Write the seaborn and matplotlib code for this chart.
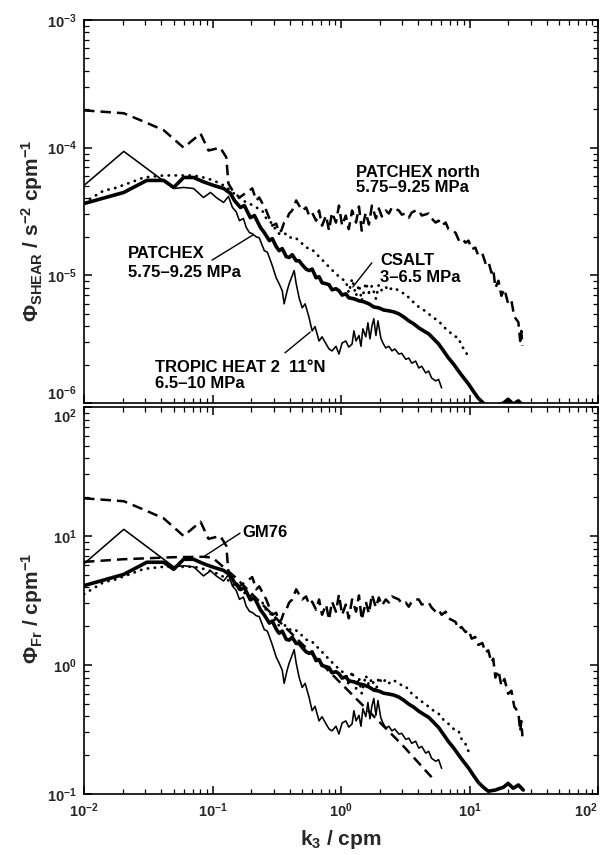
import numpy as np
import matplotlib
matplotlib.use("Agg")
import matplotlib.pyplot as plt
import seaborn as sns
from matplotlib.ticker import LogLocator, LogFormatterSciNotation, NullFormatter

# ---------------- data ----------------
# PATCHEX north 5.75-9.25 MPa (dashed), shear spectrum [s^-2 cpm^-1]
k_north = [0.01, 0.0204, 0.0292, 0.0417, 0.0596, 0.0807, 0.0931, 0.115, 0.128, 0.133,
           0.143, 0.162, 0.204, 0.219, 0.231, 0.262, 0.277, 0.292, 0.313, 0.330,
           0.343, 0.361, 0.375, 0.395, 0.417, 0.448, 0.472, 0.499, 0.535, 0.565,
           0.596, 0.640, 0.675, 0.712, 0.765, 0.807, 0.851, 0.914, 0.964, 1.02,
           1.09, 1.15, 1.22, 1.31, 1.38, 1.45, 1.56, 1.65, 1.74, 1.87,
           1.97, 2.08, 2.23, 2.36, 2.49, 2.67, 2.82, 2.97, 3.19, 3.37,
           3.55, 3.81, 4.03, 4.25, 4.81, 5.07, 5.45, 5.75, 6.07, 6.52,
           6.87, 7.24, 7.78, 8.22, 8.67, 9.31, 9.82, 10.4, 11.1, 11.7,
           12.6, 13.3, 14.0, 14.8, 15.3, 15.9, 16.8, 17.7, 18.7, 20.0,
           21.2, 22.3, 24.0, 24.8, 25.3, 25.8]
phi_north = [1.96e-4, 1.86e-4, 1.60e-4, 1.37e-4, 1.0e-4, 1.29e-4, 9.5e-5, 1.0e-4, 8.4e-5, 5.24e-5,
             4.62e-5, 4.07e-5, 4.8e-5, 3.86e-5, 4.07e-5, 3.22e-5, 2.79e-5, 2.45e-5, 2.54e-5, 2.16e-5,
             2.24e-5, 2.59e-5, 2.68e-5, 3.05e-5, 3.22e-5, 3.86e-5, 3.52e-5, 3.22e-5, 3.40e-5, 2.94e-5,
             3.10e-5, 2.68e-5, 3.22e-5, 2.45e-5, 2.94e-5, 2.24e-5, 3.10e-5, 2.59e-5, 3.52e-5, 2.45e-5,
             2.94e-5, 2.30e-5, 3.22e-5, 2.59e-5, 3.46e-5, 2.24e-5, 3.10e-5, 2.50e-5, 3.52e-5, 2.79e-5,
             3.34e-5, 2.89e-5, 3.22e-5, 3.05e-5, 3.40e-5, 3.30e-5, 3.22e-5, 2.99e-5, 3.05e-5, 2.83e-5,
             3.10e-5, 3.22e-5, 3.22e-5, 2.94e-5, 3.05e-5, 2.79e-5, 2.59e-5, 2.68e-5, 2.45e-5, 2.59e-5,
             2.30e-5, 2.24e-5, 2.16e-5, 1.90e-5, 1.97e-5, 1.80e-5, 1.87e-5, 1.60e-5, 1.65e-5, 1.43e-5,
             1.48e-5, 1.25e-5, 1.30e-5, 1.05e-5, 1.12e-5, 7.99e-6, 9.07e-6, 6.91e-6, 7.80e-6, 5.98e-6,
             6.32e-6, 4.75e-6, 4.30e-6, 3.06e-6, 3.67e-6, 2.80e-6]

# PATCHEX 5.75-9.25 MPa (thick solid)
k_patchex = [0.01, 0.0204, 0.0308, 0.0417, 0.0499, 0.0596, 0.0712, 0.0851, 0.102, 0.122,
             0.138, 0.148, 0.165, 0.177, 0.197, 0.212, 0.236, 0.253, 0.277, 0.292,
             0.313, 0.330, 0.349, 0.375, 0.395, 0.417, 0.448, 0.472, 0.499, 0.535,
             0.565, 0.596, 0.640, 0.675, 0.712, 0.765, 0.807, 0.851, 0.914, 0.964,
             1.02, 1.09, 1.15, 1.26, 1.38, 1.51, 1.65, 1.80, 1.97, 2.15,
             2.36, 2.58, 2.82, 3.08, 3.37, 3.68, 4.03, 4.40, 4.81, 5.26,
             5.75, 6.28, 6.87, 7.51, 8.22, 8.98, 9.82, 10.7, 11.7, 12.8,
             14.0, 15.9, 18.4, 20.0, 21.9, 24.0, 26.2]
phi_patchex = [3.65e-5, 4.46e-5, 5.54e-5, 5.54e-5, 4.88e-5, 5.84e-5, 5.84e-5, 5.40e-5, 5.06e-5, 4.79e-5,
               4.38e-5, 3.86e-5, 3.40e-5, 3.52e-5, 2.83e-5, 2.94e-5, 2.37e-5, 2.16e-5, 1.87e-5, 1.94e-5,
               1.68e-5, 1.56e-5, 1.62e-5, 1.40e-5, 1.38e-5, 1.45e-5, 1.30e-5, 1.30e-5, 1.21e-5, 1.12e-5,
               1.09e-5, 1.12e-5, 9.57e-6, 9.75e-6, 8.75e-6, 8.59e-6, 8.45e-6, 7.70e-6, 7.85e-6, 7.57e-6,
               7.00e-6, 7.17e-6, 6.67e-6, 6.55e-6, 6.32e-6, 6.20e-6, 5.98e-6, 5.65e-6, 5.56e-6, 5.35e-6,
               5.27e-6, 5.17e-6, 4.99e-6, 4.72e-6, 4.40e-6, 4.17e-6, 3.88e-6, 3.67e-6, 3.48e-6, 3.18e-6,
               2.90e-6, 2.56e-6, 2.25e-6, 2.02e-6, 1.78e-6, 1.58e-6, 1.41e-6, 1.24e-6, 1.09e-6, 1.00e-6,
               0.93e-6, 0.95e-6, 1.00e-6, 1.07e-6, 0.98e-6, 1.04e-6, 0.95e-6]

# TROPIC HEAT 2 11N 6.5-10 MPa (thin solid)
k_th2 = [0.01, 0.0204, 0.0499, 0.0596, 0.0712, 0.0851, 0.0965, 0.107, 0.122, 0.133,
         0.143, 0.153, 0.162, 0.174, 0.183, 0.194, 0.204, 0.219, 0.231, 0.253,
         0.267, 0.277, 0.292, 0.313, 0.330, 0.349, 0.361, 0.381, 0.395, 0.417,
         0.432, 0.448, 0.472, 0.499, 0.526, 0.565, 0.596, 0.628, 0.675, 0.712,
         0.765, 0.807, 0.851, 0.914, 0.964, 1.02, 1.09, 1.15, 1.22, 1.26,
         1.31, 1.38, 1.43, 1.48, 1.56, 1.62, 1.68, 1.74, 1.80, 1.87,
         1.94, 2.04, 2.12, 2.23, 2.36, 2.49, 2.62, 2.82, 2.97, 3.19,
         3.37, 3.55, 3.81, 4.03, 4.25, 4.56, 4.81, 5.07, 5.45, 5.75, 6.07]
phi_th2 = [5.06e-5, 9.35e-5, 4.79e-5, 4.88e-5, 4.79e-5, 4.07e-5, 4.46e-5, 4.07e-5, 3.72e-5, 4.15e-5,
           3.40e-5, 3.14e-5, 2.68e-5, 2.79e-5, 2.37e-5, 2.16e-5, 2.12e-5, 2.00e-5, 1.97e-5, 1.56e-5,
           1.52e-5, 1.38e-5, 1.19e-5, 9.57e-6, 8.59e-6, 7.57e-6, 5.98e-6, 7.57e-6, 8.59e-6, 9.93e-6,
           1.09e-5, 8.59e-6, 6.67e-6, 5.56e-6, 5.98e-6, 4.64e-6, 3.67e-6, 3.97e-6, 3.06e-6, 3.30e-6,
           2.90e-6, 2.65e-6, 2.56e-6, 2.78e-6, 2.42e-6, 2.95e-6, 3.06e-6, 2.74e-6, 2.90e-6, 3.67e-6,
           3.06e-6, 3.38e-6, 2.78e-6, 3.81e-6, 3.30e-6, 4.25e-6, 3.18e-6, 4.00e-6, 4.57e-6, 3.38e-6,
           4.40e-6, 3.24e-6, 2.95e-6, 2.70e-6, 2.78e-6, 2.56e-6, 2.65e-6, 2.42e-6, 2.45e-6, 2.20e-6,
           2.25e-6, 2.05e-6, 2.13e-6, 1.88e-6, 1.94e-6, 1.72e-6, 1.78e-6, 1.57e-6, 1.49e-6, 1.53e-6, 1.31e-6]

# CSALT 3-6.5 MPa (dotted)
k_csalt = [0.01, 0.0143, 0.0171, 0.0244, 0.0292, 0.0417, 0.0712, 0.0851, 0.102, 0.122,
           0.138, 0.153, 0.171, 0.194, 0.219, 0.244, 0.262, 0.292, 0.313, 0.330,
           0.361, 0.395, 0.432, 0.472, 0.535, 0.585, 0.640, 0.700, 0.765, 0.836,
           0.914, 1.00, 1.09, 1.15, 1.22, 1.31, 1.38, 1.45, 1.56, 1.65,
           1.74, 1.87, 1.97, 2.08, 2.23, 2.36, 2.49, 2.67, 2.82, 2.97,
           3.19, 3.37, 3.55, 3.81, 4.03, 4.40, 4.81, 5.26, 5.75, 6.28,
           6.87, 7.51, 8.22, 8.67, 9.31, 9.82]
phi_csalt = [3.72e-5, 4.62e-5, 4.79e-5, 5.45e-5, 5.84e-5, 6.06e-5, 6.06e-5, 5.84e-5, 5.54e-5, 5.06e-5,
             4.62e-5, 4.22e-5, 3.86e-5, 3.65e-5, 3.40e-5, 3.22e-5, 2.79e-5, 2.54e-5, 2.24e-5, 2.12e-5,
             2.16e-5, 1.97e-5, 2.00e-5, 1.87e-5, 1.65e-5, 1.62e-5, 1.48e-5, 1.35e-5, 1.23e-5, 1.12e-5,
             1.03e-5, 9.40e-6, 9.07e-6, 7.30e-6, 9.40e-6, 6.91e-6, 8.45e-6, 6.32e-6, 8.75e-6, 7.30e-6,
             8.28e-6, 6.55e-6, 8.45e-6, 7.57e-6, 8.10e-6, 7.57e-6, 7.99e-6, 7.85e-6, 7.57e-6, 7.30e-6,
             7.17e-6, 6.67e-6, 6.32e-6, 5.98e-6, 5.65e-6, 5.35e-6, 4.99e-6, 4.64e-6, 4.40e-6, 3.95e-6,
             3.67e-6, 3.36e-6, 3.24e-6, 2.80e-6, 2.56e-6, 2.25e-6]

# buoyancy frequency squared [s^-2] used to normalise shear into Froude spectra
n2_patchex = 8.85e-6
n2_th2 = 8.3e-6
n2_north = 1.0e-5
n2_csalt = 1.05e-5

# GM76 Froude spectrum (bottom panel only)
k_gm76 = [0.01, 0.02, 0.05, 0.085, 0.1, 0.15, 0.2, 0.3, 0.5, 1.0, 2.0, 3.0, 5.07]
phi_gm76 = [6.3, 6.6, 6.85, 6.9, 6.8, 4.8, 3.6, 2.4, 1.45, 0.72, 0.36, 0.24, 0.135]

# ---------------- style ----------------
sns.set_theme(style="ticks")
plt.rcParams["font.family"] = ["Liberation Sans", "DejaVu Sans"]
plt.rcParams["font.weight"] = "bold"
plt.rcParams["mathtext.fontset"] = "custom"
plt.rcParams["mathtext.rm"] = "Liberation Sans:bold"
plt.rcParams["mathtext.it"] = "Liberation Sans:italic:bold"
plt.rcParams["mathtext.bf"] = "Liberation Sans:bold"
plt.rcParams["mathtext.sf"] = "Liberation Sans:bold"
plt.rcParams["mathtext.default"] = "regular"
plt.rcParams["axes.edgecolor"] = "black"
plt.rcParams["axes.linewidth"] = 1.2

fig = plt.figure(figsize=(6.03, 8.55), dpi=100)
W, H = 603.0, 855.0
ax1 = fig.add_axes([84 / W, 1 - 403 / H, 514 / W, 383 / H])
ax2 = fig.add_axes([84 / W, 1 - 794 / H, 514 / W, 387 / H])

dash = (0, (4.2, 2.4))
dot = (0, (0.1, 2.4))

def draw(ax, k, phi, kind):
    if kind == "thick":
        sns.lineplot(x=k, y=phi, ax=ax, color="black", linewidth=2.6, sort=False,
                     estimator=None, solid_joinstyle="round")
    elif kind == "thin":
        sns.lineplot(x=k, y=phi, ax=ax, color="black", linewidth=1.15, sort=False,
                     estimator=None)
    elif kind == "dash":
        sns.lineplot(x=k, y=phi, ax=ax, color="black", linewidth=1.8, sort=False,
                     estimator=None, linestyle=dash)
    elif kind == "dot":
        sns.lineplot(x=k, y=phi, ax=ax, color="black", linewidth=2.0, sort=False,
                     estimator=None, linestyle=dot, dash_capstyle="round")

for ax in (ax1, ax2):
    ax.set_xscale("log")
    ax.set_yscale("log")

# top: shear spectra
draw(ax1, k_north, phi_north, "dash")
draw(ax1, k_csalt, phi_csalt, "dot")
draw(ax1, k_th2, phi_th2, "thin")
draw(ax1, k_patchex, phi_patchex, "thick")

# bottom: Froude spectra = shear / N^2
draw(ax2, k_north, np.array(phi_north) / n2_north, "dash")
draw(ax2, k_gm76, phi_gm76, "dash")
draw(ax2, k_csalt, np.array(phi_csalt) / n2_csalt, "dot")
draw(ax2, k_th2, np.array(phi_th2) / n2_th2, "thin")
draw(ax2, k_patchex, np.array(phi_patchex) / n2_patchex, "thick")

ax1.set_xlim(1e-2, 1e2)
ax2.set_xlim(1e-2, 1e2)
ax1.set_ylim(1e-6, 1e-3)
ax2.set_ylim(1e-1, 1e2)

for ax in (ax1, ax2):
    for axis in (ax.xaxis, ax.yaxis):
        axis.set_major_locator(LogLocator(base=10, numticks=20))
        axis.set_minor_locator(LogLocator(base=10, subs=np.arange(2, 10), numticks=100))
        axis.set_major_formatter(LogFormatterSciNotation())
        axis.set_minor_formatter(NullFormatter())
    ax.tick_params(which="both", direction="in", top=True, right=True,
                   color="black", labelsize=10.5, pad=5)
    ax.tick_params(which="major", length=6, width=1.1)
    ax.tick_params(which="minor", length=3.5, width=0.9)
    for s in ax.spines.values():
        s.set_color("black")
        s.set_linewidth(1.2)

ax1.tick_params(axis="x", labelbottom=False)

ax1.set_ylabel("\u03a6$_{SHEAR}$ / s$^{-2}$ cpm$^{-1}$", fontsize=15, fontweight="bold")
ax2.set_ylabel("\u03a6$_{Fr}$ / cpm$^{-1}$", fontsize=15, fontweight="bold")
ax2.set_xlabel("k$_{3}$ / cpm", fontsize=15, fontweight="bold", labelpad=6)
ax1.yaxis.set_label_coords(-0.075, 0.45)
ax2.yaxis.set_label_coords(-0.075, 0.48)

# nudge the crowded edge tick labels as in the original
fig.canvas.draw()
for t in ax1.yaxis.get_major_ticks():
    if abs(t.get_loc() - 1e-6) < 1e-9:
        t.label1.set_verticalalignment("bottom")
for t in ax2.yaxis.get_major_ticks():
    if abs(t.get_loc() - 1e2) < 1e-6:
        t.label1.set_verticalalignment("top")
for t in ax2.xaxis.get_major_ticks():
    if abs(t.get_loc() - 1e2) < 1e-6:
        t.label1.set_horizontalalignment("right")

# annotations
tk = dict(fontsize=12, va="baseline", ha="left", color="black", fontweight="bold")
ax1.text(0.529, 0.590, "PATCHEX north", transform=ax1.transAxes, **tk)
ax1.text(0.529, 0.551, "5.75\u20139.25 MPa", transform=ax1.transAxes, **tk)
ax1.text(0.0856, 0.379, "PATCHEX", transform=ax1.transAxes, **tk)
ax1.text(0.0856, 0.329, "5.75\u20139.25 MPa", transform=ax1.transAxes, **tk)
ax1.text(0.576, 0.360, "CSALT", transform=ax1.transAxes, **tk)
ax1.text(0.576, 0.316, "3\u20136.5 MPa", transform=ax1.transAxes, **tk)
ax1.text(0.138, 0.081, "TROPIC HEAT 2  11\u00b0N", transform=ax1.transAxes, **tk)
ax1.text(0.138, 0.039, "6.5\u201310 MPa", transform=ax1.transAxes, **tk)
ax2.text(0.309, 0.664, "GM76", transform=ax2.transAxes, **tk)

lk = dict(color="black", linewidth=1.0)
ax1.plot([0.249, 0.329], [0.373, 0.439], transform=ax1.transAxes, **lk)
ax1.plot([0.560, 0.523], [0.366, 0.303], transform=ax1.transAxes, **lk)
ax1.plot([0.391, 0.440], [0.131, 0.185], transform=ax1.transAxes, **lk)
ax2.plot([0.3035, 0.2315], [0.674, 0.612], transform=ax2.transAxes, **lk)

fig.savefig("out.png", dpi=100)
